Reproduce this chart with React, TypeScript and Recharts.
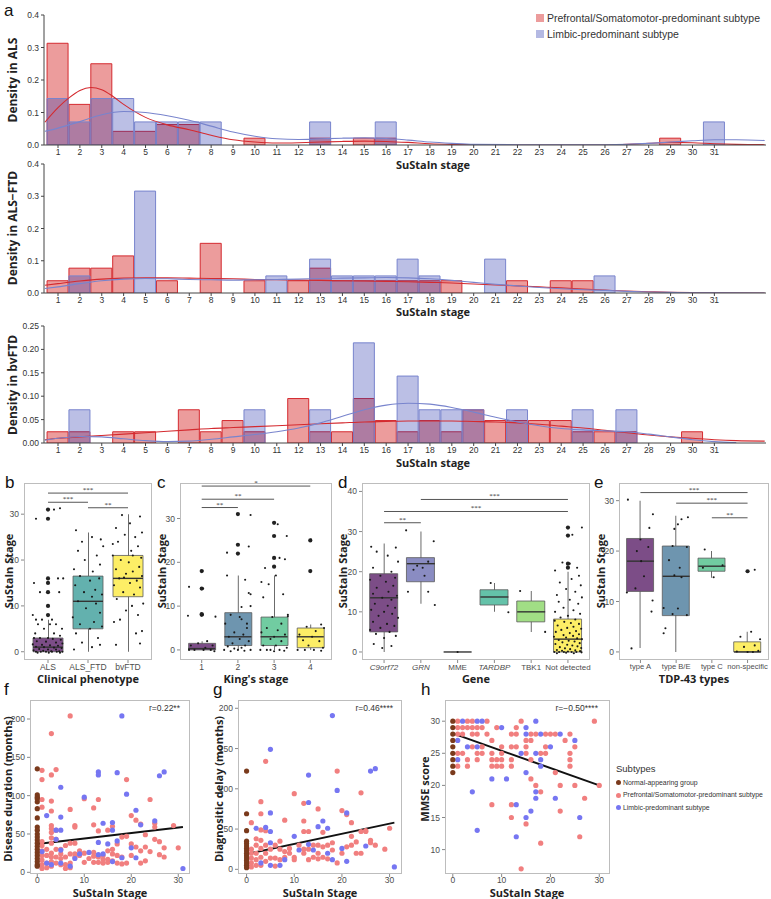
import React from "react";
import { Bar, Cell, ComposedChart, Line, ReferenceLine, Scatter, XAxis, YAxis } from "recharts";

type Pair = [number, number];

// ---------- panel a: stage histograms ----------
const stages = [1, 2, 3, 4, 5, 6, 7, 8, 9, 10, 11, 12, 13, 14, 15, 16, 17, 18, 19, 20, 21, 22, 23, 24, 25, 26, 27, 28, 29, 30, 31];

const alsRed = [0.313, 0.125, 0.25, 0.042, 0.042, 0.063, 0.063, 0, 0, 0.021, 0, 0, 0.021, 0, 0.021, 0.021, 0, 0, 0, 0, 0, 0, 0, 0, 0, 0, 0, 0, 0.021, 0, 0];
const alsBlue = [0.143, 0.071, 0.143, 0.143, 0.071, 0.071, 0.071, 0.071, 0, 0, 0, 0, 0.071, 0, 0, 0.071, 0, 0, 0, 0, 0, 0, 0, 0, 0, 0, 0, 0, 0, 0, 0.071];
const ftdRed = [0.038, 0.077, 0.077, 0.115, 0, 0.038, 0, 0.154, 0, 0.038, 0, 0.038, 0.077, 0.038, 0.038, 0.038, 0.038, 0.038, 0.038, 0, 0, 0.038, 0, 0.038, 0.038, 0, 0, 0, 0, 0, 0];
const ftdBlue = [0, 0.053, 0, 0, 0.316, 0, 0, 0, 0, 0, 0.053, 0, 0.105, 0.053, 0.053, 0.053, 0.105, 0.053, 0, 0, 0.105, 0, 0, 0, 0, 0.053, 0, 0, 0, 0, 0];
const bvRed = [0.024, 0.024, 0, 0.024, 0.024, 0, 0.071, 0.024, 0.048, 0.024, 0, 0.095, 0.024, 0.024, 0.095, 0.048, 0.024, 0.048, 0.024, 0.071, 0.048, 0.048, 0.048, 0.048, 0.024, 0.024, 0.024, 0, 0, 0.024, 0];
const bvBlue = [0, 0.071, 0, 0, 0, 0, 0, 0, 0, 0.071, 0, 0, 0.071, 0, 0.214, 0, 0.143, 0.071, 0.071, 0.071, 0, 0.071, 0, 0, 0.071, 0, 0.071, 0, 0, 0, 0];

// density curves, read at stage positions
const alsRedKde: Pair[] = [[0.4, 0.07], [1, 0.115], [1.5, 0.145], [2, 0.168], [2.5, 0.177], [3, 0.17], [3.5, 0.15], [4, 0.125], [5, 0.085], [6, 0.062], [7, 0.047], [8, 0.03], [9, 0.016], [10, 0.009], [11, 0.006], [12, 0.007], [13, 0.009], [14, 0.011], [15, 0.012], [16, 0.011], [17, 0.008], [18, 0.004], [19, 0.002], [20, 0.001], [22, 0], [26, 0], [27, 0.002], [28, 0.005], [29, 0.008], [30, 0.007], [31, 0.004], [32, 0.002], [33.3, 0.001]];
const alsBlueKde: Pair[] = [[0.4, 0.042], [1, 0.052], [2, 0.072], [3, 0.093], [4, 0.103], [5, 0.1], [6, 0.09], [7, 0.076], [8, 0.058], [9, 0.04], [10, 0.027], [11, 0.019], [12, 0.017], [13, 0.019], [14, 0.021], [15, 0.022], [16, 0.02], [17, 0.015], [18, 0.009], [19, 0.005], [20, 0.002], [22, 0.001], [26, 0.001], [27, 0.002], [28, 0.005], [29, 0.009], [30, 0.013], [31, 0.016], [32, 0.016], [33.3, 0.014]];
const ftdRedKde: Pair[] = [[0.4, 0.024], [1, 0.029], [2, 0.037], [3, 0.043], [4, 0.046], [5, 0.047], [6, 0.047], [7, 0.046], [8, 0.045], [9, 0.044], [10, 0.042], [11, 0.041], [12, 0.04], [13, 0.039], [14, 0.038], [15, 0.037], [16, 0.036], [17, 0.035], [18, 0.033], [19, 0.031], [20, 0.028], [21, 0.025], [22, 0.022], [23, 0.019], [24, 0.016], [25, 0.012], [26, 0.009], [27, 0.006], [28, 0.004], [29, 0.002], [30, 0.001], [31, 0.0005], [33.3, 0]];
const ftdBlueKde: Pair[] = [[0.4, 0.014], [1, 0.019], [2, 0.029], [3, 0.038], [4, 0.043], [5, 0.045], [6, 0.044], [7, 0.042], [8, 0.041], [9, 0.04], [10, 0.041], [11, 0.042], [12, 0.043], [13, 0.045], [14, 0.046], [15, 0.047], [16, 0.048], [17, 0.047], [18, 0.044], [19, 0.039], [20, 0.033], [21, 0.027], [22, 0.022], [23, 0.017], [24, 0.013], [25, 0.01], [26, 0.008], [27, 0.005], [28, 0.003], [29, 0.002], [30, 0.001], [31, 0.0005], [33.3, 0]];
const bvRedKde: Pair[] = [[0.4, 0.007], [1, 0.01], [2, 0.013], [3, 0.016], [4, 0.019], [5, 0.022], [6, 0.025], [7, 0.028], [8, 0.031], [9, 0.033], [10, 0.035], [11, 0.037], [12, 0.039], [13, 0.041], [14, 0.043], [15, 0.045], [16, 0.046], [17, 0.047], [18, 0.047], [19, 0.047], [20, 0.046], [21, 0.045], [22, 0.043], [23, 0.04], [24, 0.036], [25, 0.032], [26, 0.027], [27, 0.022], [28, 0.017], [29, 0.013], [30, 0.01], [31, 0.007], [32, 0.005], [33.3, 0.004]];
const bvBlueKde: Pair[] = [[0.4, 0.006], [1, 0.01], [2, 0.014], [3, 0.013], [4, 0.009], [5, 0.005], [6, 0.003], [7, 0.004], [8, 0.008], [9, 0.013], [10, 0.018], [11, 0.024], [12, 0.032], [13, 0.043], [14, 0.057], [15, 0.071], [16, 0.081], [17, 0.085], [18, 0.083], [19, 0.076], [20, 0.066], [21, 0.055], [22, 0.045], [23, 0.037], [24, 0.031], [25, 0.028], [26, 0.026], [27, 0.024], [28, 0.019], [29, 0.013], [30, 0.007], [31, 0.003], [32, 0.001]];

// ---------- panels b-e: box plots ----------
type Box = { x: number; lo: number; q1: number; med: number; q3: number; hi: number };

const phenoNames = ["ALS", "ALS_FTD", "bvFTD"];
const phenoBoxes: Box[] = [
  { x: 1, lo: 0, q1: 0, med: 1, q3: 3, hi: 7 },
  { x: 2, lo: 0, q1: 5, med: 11, q3: 16.5, hi: 26 },
  { x: 3, lo: 0, q1: 12, med: 16, q3: 21, hi: 30 },
];
const phenoOutliers: Pair[] = [[1, 8], [1, 10], [1, 13], [1, 15], [1, 16], [1, 29], [1, 31]];
const alsJitter: Pair[] = [[-0.3, 29], [0.15, 31], [0.3, 31.3], [-0.35, 15], [0.25, 16], [0.38, 16], [-0.2, 13], [0.28, 13], [-0.38, 8], [-0.3, 7], [-0.15, 7], [0.1, 7], [-0.25, 6], [0.05, 6], [0.2, 6], [0.35, 5], [-0.1, 5], [-0.32, 4], [0.15, 4], [0.3, 3.5], [-0.35, 3], [-0.2, 3], [0, 3], [0.12, 2.8], [0.32, 2.6], [-0.28, 2.3], [-0.05, 2.2], [0.2, 2], [0.36, 1.8], [-0.38, 1.6], [-0.15, 1.5], [0.05, 1.4], [0.25, 1.3], [-0.3, 1.1], [-0.1, 1], [0.15, 0.9], [0.34, 0.8], [-0.22, 0.6], [0, 0.5], [0.2, 0.5], [-0.36, 0.3], [-0.12, 0.2], [0.08, 0.1], [0.28, 0.1], [-0.3, 0], [-0.18, 0], [-0.05, 0], [0.1, 0], [0.22, 0], [0.36, 0], [-0.26, -0.2], [0.02, -0.2], [0.3, -0.2]];
const alsFtdJitter: Pair[] = [[-0.35, 0.5], [0.1, 1], [0.3, 1.5], [-0.15, 2], [0.25, 3], [-0.3, 4], [0.05, 5], [0.35, 5.5], [-0.2, 6], [0.15, 6.5], [-0.38, 7.5], [0.3, 8.5], [-0.05, 9.5], [0.2, 10.5], [-0.25, 11], [0.1, 12], [0.35, 12.5], [-0.1, 13], [0.18, 13.5], [-0.32, 14.5], [0.05, 15.5], [0.28, 16], [-0.2, 16.5], [0.12, 17.5], [-0.35, 18], [0.3, 19], [-0.08, 20], [0.22, 21], [-0.25, 22], [0.38, 23], [-0.15, 24], [0.1, 25], [-0.3, 26.5], [0.32, 24.5]];
const bvftdJitter: Pair[] = [[-0.3, 1.5], [0.3, 1.8], [0.2, 4], [0.35, 4.5], [-0.35, 6.5], [-0.2, 7], [0.25, 8], [-0.05, 9], [0.1, 10], [0.38, 10.5], [-0.28, 11.5], [0.15, 12.5], [-0.12, 13], [0.3, 14], [-0.35, 14.5], [0.05, 15], [0.22, 15.5], [-0.22, 16], [0.35, 16.5], [-0.05, 17], [0.12, 17.5], [-0.3, 18], [0.28, 18.5], [0.02, 19.5], [-0.18, 20], [0.33, 20.5], [-0.38, 21], [0.08, 22], [0.25, 23], [-0.25, 24], [0.18, 25], [-0.08, 25.5], [0.35, 26], [-0.3, 27], [0.05, 28], [0.3, 29.5], [-0.15, 29.8], [-0.38, 23.5], [0.12, 21], [-0.1, 16.2]];
const phenoBrackets: [number, number, number, string][] = [[1, 3, 34.6, "***"], [1, 2, 32.6, "***"], [2, 3, 31.4, "**"]];

const kingNames = ["1", "2", "3", "4"];
const kingBoxes: Box[] = [
  { x: 1, lo: 0, q1: 0, med: 0.3, q3: 1.5, hi: 2 },
  { x: 2, lo: 0, q1: 1, med: 3, q3: 8.5, hi: 17 },
  { x: 3, lo: 0, q1: 1, med: 3, q3: 7.5, hi: 17 },
  { x: 4, lo: 0, q1: 0.5, med: 3, q3: 5, hi: 5.8 },
];
const kingOutliers: Pair[] = [[1, 8], [1, 8.2], [1, 14], [1, 18], [2, 22], [2, 24], [2, 31], [3, 19], [3, 21], [3, 26], [3, 29], [4, 18], [4, 25]];
const king1Jitter: Pair[] = [[-0.35, 14.4], [0.38, 7.6], [-0.38, 7.8], [0.02, 18], [0.04, 14], [0.03, 8], [-0.3, 1], [-0.1, 1.5], [0.1, 0.5], [0.3, 1], [-0.2, 0], [0.05, 0], [0.25, 0], [0.35, -0.3], [-0.35, 0], [0.15, 2]];
const king2Jitter: Pair[] = [[-0.3, 22.2], [0.3, 23.6], [0.35, 30.8], [-0.3, 17], [0.2, 16], [0.3, 13], [0.35, 12.7], [0.1, 9.8], [0.35, 10], [-0.2, 8], [0.1, 7], [-0.35, 6], [0.25, 5], [-0.1, 4], [0.15, 3.5], [-0.25, 3], [0.05, 2.5], [0.3, 2], [-0.15, 1.5], [0.2, 1], [-0.38, 0], [-0.2, -0.3], [0, 0], [0.18, -0.2], [0.35, 0], [-0.1, 0.3], [0.1, 0.5], [-0.28, 0.8], [0.25, 6], [0.05, 7.5]];
const king3Jitter: Pair[] = [[0.1, 28.7], [0.35, 26], [0.3, 20.7], [0.15, 21], [-0.25, 18.7], [0.05, 17], [-0.35, 15.5], [-0.15, 15], [0.25, 12.7], [-0.3, 12], [0.38, 8], [-0.05, 7.5], [0.2, 6], [-0.2, 5], [0.1, 4.5], [-0.35, 4], [0.3, 3.5], [0, 3], [-0.1, 2.5], [0.2, 2], [-0.3, 1], [0.05, 1], [0.35, 0.5], [-0.38, 0], [-0.2, 0], [0, -0.3], [0.15, 0], [0.28, -0.2], [-0.1, 0], [0.38, 7.7]];
const king4Jitter: Pair[] = [[0.02, 25.2], [0.3, 5.8], [0.38, 5], [-0.1, 5.3], [0.15, 4.3], [-0.3, 3.5], [0.05, 3], [-0.2, 2.2], [0.25, 2], [-0.05, 1], [0.35, 0.5], [-0.35, 0], [-0.15, 0], [0.1, 0], [0.3, -0.2]];
const kingBrackets: [number, number, number, string][] = [[1, 4, 37.4, "*"], [1, 3, 34.4, "**"], [1, 2, 32.5, "**"]];

const geneNames = ["C9orf72", "GRN", "MME", "TARDBP", "TBK1", "Not detected"];
const geneItalic = ["C9orf72", "GRN", "TARDBP"];
const geneBoxes: Box[] = [
  { x: 1, lo: 0, q1: 5, med: 13.5, q3: 19.5, hi: 27 },
  { x: 2, lo: 12, q1: 17.5, med: 22, q3: 23.5, hi: 30 },
  { x: 3, lo: 0, q1: 0, med: 0, q3: 0, hi: 0 },
  { x: 4, lo: 10, q1: 11.7, med: 13.7, q3: 15.5, hi: 17.2 },
  { x: 5, lo: 5, q1: 7.5, med: 10, q3: 12.7, hi: 15.2 },
  { x: 6, lo: 0, q1: 0, med: 3.2, q3: 8.2, hi: 20 },
];
const geneOutliers: Pair[] = [[6, 21], [6, 22], [6, 29], [6, 31]];
const c9Jitter: Pair[] = [[-0.35, 26.2], [0.32, 26], [-0.2, 25], [0.1, 24], [0.38, 22.5], [-0.3, 21], [0.2, 20], [-0.1, 19], [0.3, 18.5], [-0.38, 18], [0.05, 17.5], [0.25, 16.5], [-0.2, 16], [0.12, 15], [-0.3, 14.5], [0.35, 14], [-0.05, 13.5], [0.2, 13], [-0.25, 12], [0.1, 11.5], [0.3, 11], [-0.35, 10.5], [0, 10], [0.22, 9.5], [-0.15, 9], [0.38, 8.5], [-0.3, 7.5], [0.08, 7], [0.28, 6.5], [-0.1, 6], [-0.38, 5.5], [0.15, 5], [-0.22, 4.5], [0.32, 4], [0, 3.5], [-0.28, 2], [0.2, 1.5], [-0.05, 1]];
const grnJitter: Pair[] = [[-0.4, 30.3], [0.35, 27.6], [0.2, 22.5], [-0.1, 21.5], [0.05, 21], [-0.2, 20.5], [0.1, 19], [-0.35, 15], [0.2, 15], [0.38, 11.7]];
const mmeJitter: Pair[] = [[0, 0]];
const tardbpJitter: Pair[] = [[-0.1, 17.2], [0.38, 9.9]];
const tbk1Jitter: Pair[] = [[-0.3, 15.2], [0.38, 5]];
const ndJitter: Pair[] = [[0.38, 31], [0.12, 29.2], [0.05, 22], [-0.15, 22.3], [0.25, 21], [-0.35, 20.3], [0.3, 19], [0.1, 18.2], [-0.22, 17.3], [0.35, 16.6], [-0.05, 15.7], [0.2, 15], [-0.3, 14.2], [0.38, 13.6], [0.05, 13], [-0.25, 12.5], [0.28, 12], [-0.12, 11], [0.15, 10.4], [-0.35, 10], [0.33, 9.5], [0, 9], [-0.2, 8.6], [0.2, 8.1], [-0.36, 7.8], [-0.1, 7.5], [0.08, 7.2], [0.3, 7], [-0.28, 6.6], [0.15, 6.3], [-0.02, 6], [0.36, 5.8], [-0.18, 5.5], [0.22, 5.2], [-0.33, 5], [0.05, 4.7], [0.3, 4.4], [-0.12, 4.2], [0.14, 4], [-0.38, 3.8], [-0.05, 3.6], [0.25, 3.4], [0.38, 3.2], [-0.25, 3], [0.02, 2.8], [0.18, 2.6], [-0.15, 2.4], [0.32, 2.2], [-0.34, 2], [-0.02, 1.8], [0.12, 1.6], [0.26, 1.4], [-0.22, 1.2], [0.36, 1], [-0.08, 0.9], [0.06, 0.7], [-0.3, 0.5], [0.2, 0.4], [-0.16, 0.3], [0.33, 0.2], [0, 0.1], [-0.37, 0], [-0.24, 0], [-0.11, 0], [0.1, 0], [0.23, 0], [0.37, -0.1], [-0.05, -0.2], [0.16, -0.3], [-0.3, -0.3]];
const geneBrackets: [number, number, number, string][] = [[2, 6, 38, "***"], [1, 6, 35, "***"], [1, 2, 32.2, "**"]];

const tdpNames = ["type A", "type B/E", "type C", "non-specific"];
const tdpBoxes: Box[] = [
  { x: 1, lo: 0.8, q1: 12, med: 18, q3: 22.5, hi: 30 },
  { x: 2, lo: 0, q1: 7.2, med: 15, q3: 21, hi: 27 },
  { x: 3, lo: 14.7, q1: 16, med: 17, q3: 18.6, hi: 20 },
  { x: 4, lo: 0, q1: 0, med: 0, q3: 2, hi: 4 },
];
const tdpOutliers: Pair[] = [[4, 16]];
const typeAJitter: Pair[] = [[-0.35, 30.2], [0.35, 27.3], [0.25, 24.6], [0, 22.3], [0.22, 20.8], [-0.1, 20], [0.02, 18], [0.1, 15], [-0.14, 12.6], [-0.38, 11.8], [0.34, 10.2], [0.31, 8], [-0.25, 0.7]];
const typeBEJitter: Pair[] = [[0.33, 26.7], [0.15, 26.3], [0.05, 25.3], [-0.05, 24.4], [-0.1, 21], [0.3, 20.8], [-0.2, 18.2], [0.1, 16.7], [-0.05, 15.2], [0.15, 14.8], [-0.35, 8.7], [0.05, 8.6], [-0.1, 7.5], [0.3, 7.3], [-0.3, 4.7], [-0.35, 3.7]];
const typeCJitter: Pair[] = [[-0.2, 20.3], [-0.25, 16.7], [0.05, 14.8], [0.3, 17.2]];
const nonSpecJitter: Pair[] = [[0.2, 16.3], [0.1, 4], [-0.2, 3], [0.35, 2.5], [0.2, 1.3], [-0.1, 1], [0.3, 0.2], [-0.3, 0.1], [0, 0], [0.15, 0]];
const tdpBrackets: [number, number, number, string][] = [[1, 4, 31.6, "***"], [2, 4, 29.5, "***"], [3, 4, 26.6, "**"]];

// ---------- panels f-h: scatter vs stage ----------
const durBrown: number[] = [135, 101, 98, 96, 92, 83, 71, 59, 55, 50, 46, 42, 38, 34, 30, 26, 22, 18, 14, 10, 8];
const durPink: Pair[] = [[7, 204], [3, 181], [3, 127], [4, 134], [1, 133], [1, 121], [3, 93], [1, 95], [1, 85], [3, 80], [7, 82], [10, 96], [13, 95], [12, 84], [19, 121], [20, 74], [21, 68], [24, 95], [22, 63], [29, 61], [30, 32], [3, 61], [3, 57], [4, 55], [8, 61], [8, 59], [12, 62], [13, 54], [15, 55], [16, 60], [18, 46], [23, 49], [25, 64], [25, 59], [19, 47], [17, 37], [1, 40], [1, 35], [1, 28], [1, 22], [1, 16], [1, 10], [1, 5], [2, 30], [2, 22], [2, 12], [2, 6], [3, 52], [3, 45], [3, 38], [3, 25], [3, 20], [3, 14], [3, 8], [4, 43], [4, 30], [4, 20], [4, 12], [5, 30], [5, 24], [5, 18], [5, 10], [6, 35], [6, 20], [6, 10], [6, 5], [7, 38], [7, 24], [7, 12], [7, 6], [8, 38], [8, 24], [8, 20], [9, 28], [9, 22], [10, 25], [10, 13], [11, 18], [12, 26], [12, 21], [12, 13], [13, 20], [13, 13], [14, 22], [14, 17], [14, 12], [15, 28], [15, 17], [15, 13], [16, 30], [16, 24], [16, 15], [17, 22], [17, 12], [18, 20], [18, 11], [19, 12], [20, 37], [20, 22], [21, 33], [22, 28], [22, 12], [23, 33], [23, 15], [24, 27], [25, 43], [26, 40], [26, 23], [27, 32], [27, 20]];
const durBlue: Pair[] = [[18, 204], [5, 111], [13, 131], [13, 127], [17, 130], [26, 126], [27, 131], [10, 98], [19, 102], [21, 81], [2, 74], [5, 72], [14, 64], [16, 65], [22, 62], [25, 67], [4, 55], [5, 55], [13, 39], [15, 37], [17, 41], [20, 32], [21, 19], [1, 27], [2, 12], [3, 10], [5, 12], [7, 8], [8, 18], [11, 26], [14, 24], [16, 14], [31, 5], [5, 29], [4, 43], [9, 24], [18, 19], [13, 23], [16, 55]];
const durFit: Pair[] = [[0, 37], [31, 59]];

const delayBrown: number[] = [122, 69, 48, 35, 32, 29, 26, 23, 20, 17, 14, 11, 8, 5, 2];
const delayPink: Pair[] = [[4, 134], [19, 122], [10, 94], [12, 82], [15, 75], [24, 95], [20, 73], [21, 68], [22, 58], [3, 84], [3, 69], [1, 58], [8, 61], [12, 60], [13, 47], [12, 47], [22, 41], [23, 34], [24, 47], [25, 48], [26, 36], [27, 30], [29, 25], [30, 51], [1, 25], [1, 20], [1, 14], [1, 8], [1, 3], [2, 38], [2, 30], [2, 20], [2, 12], [2, 5], [3, 49], [3, 36], [3, 26], [3, 15], [3, 5], [4, 48], [4, 30], [4, 20], [4, 10], [5, 25], [5, 14], [6, 30], [6, 14], [6, 4], [7, 35], [7, 25], [7, 12], [8, 22], [8, 15], [9, 26], [9, 20], [10, 15], [10, 12], [11, 30], [12, 25], [12, 20], [13, 12], [13, 25], [14, 15], [14, 30], [15, 30], [15, 20], [15, 13], [16, 28], [16, 15], [17, 30], [17, 13], [18, 24], [19, 8], [20, 20], [21, 28], [22, 30], [23, 20], [24, 20], [25, 47], [26, 33], [18, 33], [16, 46]];
const delayBlue: Pair[] = [[18, 191], [5, 149], [13, 117], [26, 122], [27, 125], [19, 98], [5, 70], [13, 83], [21, 70], [16, 60], [15, 53], [17, 51], [2, 51], [4, 52], [5, 47], [5, 33], [10, 41], [11, 24], [13, 31], [14, 24], [17, 20], [20, 26], [21, 10], [25, 29], [31, 3], [3, 8], [5, 5], [7, 5], [8, 12], [18, 12]];
const delayFit: Pair[] = [[0, 19], [31, 58]];

const mmseBrown: number[] = [30, 29, 28, 27, 26, 25, 24, 23, 22];
const mmsePink: Pair[] = [[1, 30], [3, 30], [4, 30], [7, 30], [14, 30], [29, 30], [1, 29], [2, 29], [3, 29], [4, 29], [5, 29], [6, 29], [9, 29], [13, 29], [1, 28], [2, 28], [4, 28], [5, 28], [7, 28], [12, 28], [13, 28], [16, 28], [17, 28], [19, 28], [20, 28], [21, 28], [24, 28], [8, 27], [15, 27], [16, 27], [23, 27], [4, 26], [6, 26], [10, 26], [12, 26], [13, 26], [15, 26], [19, 26], [25, 26], [1, 25], [2, 25], [5, 25], [6, 25], [8, 25], [10, 25], [15, 25], [18, 25], [19, 25], [24, 25], [3, 24], [5, 24], [8, 24], [9, 24], [10, 24], [12, 24], [16, 24], [24, 24], [1, 23], [3, 23], [8, 23], [9, 23], [10, 23], [12, 23], [24, 23], [21, 22], [16, 21], [17, 20], [22, 20], [25, 20], [30, 20], [18, 19], [27, 18], [8, 17], [12, 17], [22, 16], [12, 15], [15, 14], [26, 12], [18, 11], [14, 7]];
const mmseBlue: Pair[] = [[2, 30], [5, 30], [6, 30], [17, 30], [10, 29], [15, 29], [15, 28], [18, 28], [22, 28], [1, 27], [25, 27], [3, 26], [5, 26], [20, 26], [14, 25], [17, 25], [1, 24], [18, 24], [18, 23], [15, 22], [8, 21], [11, 21], [4, 19], [17, 19], [17, 18], [21, 18], [13, 17], [16, 16], [15, 15], [26, 15], [5, 13], [13, 12]];
const mmseFit: Pair[] = [[0, 28.1], [30, 20]];

// ---------- styles ----------
const TICK_FONT = "'Liberation Sans', Arial, sans-serif";
const TITLE_FONT = "'Open Sans', 'Noto Sans', sans-serif";
const RED_FILL = "#D52424";
const RED_LINE = "#D42A2F";
const BLUE_FILL = "#2A37AF";
const BLUE_LINE = "#7884CD";
const PINK = "#F17F7F";
const BLUE = "#7676F2";
const BROWN = "#7A3A1C";

const viridis3 = ["#7C4D87", "#63B1AE", "#FDEE66"];
const viridis4 = ["#7C4D87", "#6E95AF", "#71CCA1", "#FDEE66"];
const viridis6 = ["#7C4D87", "#8A8CC2", "#69A0AF", "#64C2A9", "#A1DE85", "#FDEE66"];

const toXY = (pairs: Pair[]) => pairs.map(([x, y]) => ({ x, y }));
const withCat = (cat: number, pairs: Pair[]) => pairs.map(([dx, y]) => ({ x: cat + dx, y }));

function Txt({ x, y, children, size = 11, bold = true, color = "#222", font = TITLE_FONT, anchor = "center" }: any) {
  const tx = anchor === "center" ? "-50%" : anchor === "right" ? "-100%" : "0";
  return (
    <div style={{ position: "absolute", left: x, top: y, transform: `translate(${tx}, -50%)`, whiteSpace: "nowrap", fontSize: size, fontWeight: bold ? 700 : 400, color, fontFamily: font, lineHeight: 1 }}>
      {children}
    </div>
  );
}

function RotTxt({ x, y, children, size = 11 }: any) {
  return (
    <div style={{ position: "absolute", left: x, top: y, transform: "translate(-50%, -50%) rotate(-90deg)", whiteSpace: "nowrap", fontSize: size, fontWeight: 700, color: "#222", fontFamily: TITLE_FONT, lineHeight: 1 }}>
      {children}
    </div>
  );
}

function StageHist({ top, height, red, blue, redKde, blueKde, yMax, yTicks, digits }: any) {
  const data = stages.map((s, i) => ({ x: s, red: red[i], blue: blue[i] }));
  const mt = 6;
  const xDomain = [0.36, 33.36];
  const tick = { fontSize: 8.5, fill: "#333", fontFamily: TICK_FONT };
  return (
    <div style={{ position: "absolute", left: 0, top: top - mt }}>
      <ComposedChart width={771} height={height + mt + 14} data={data} margin={{ top: mt, right: 5, bottom: 0, left: 0 }}>
        <XAxis xAxisId="main" type="number" dataKey="x" domain={xDomain} allowDataOverflow ticks={stages} interval={0} height={14} tickSize={3} tickMargin={1} tick={tick} stroke="#444" />
        <XAxis xAxisId="r" type="number" dataKey="x" domain={xDomain} hide height={0} />
        <XAxis xAxisId="s" type="number" dataKey="x" domain={xDomain} hide height={0} />
        <YAxis type="number" domain={[0, yMax]} allowDataOverflow ticks={yTicks} tickFormatter={(v: number) => v.toFixed(digits)} width={44} tickSize={3} tick={tick} stroke="#444" />
        <Bar xAxisId="r" dataKey="red" barSize={21} fill={RED_FILL} fillOpacity={0.45} stroke={RED_LINE} strokeWidth={1} isAnimationActive={false} />
        <Bar xAxisId="s" dataKey="blue" barSize={21} fill={BLUE_FILL} fillOpacity={0.32} stroke={BLUE_LINE} strokeWidth={1} isAnimationActive={false} />
        <Line xAxisId="main" data={toXY(redKde)} dataKey="y" type="monotone" stroke={RED_LINE} strokeWidth={1.1} dot={false} isAnimationActive={false} />
        <Line xAxisId="main" data={toXY(blueKde)} dataKey="y" type="monotone" stroke={BLUE_LINE} strokeWidth={1.1} dot={false} isAnimationActive={false} />
      </ComposedChart>
    </div>
  );
}

const dot = (r: number, fill: string) => (p: any) => <circle cx={p.cx} cy={p.cy} r={r} fill={fill} />;

function Frame({ left, top, width, height }: any) {
  return <div style={{ position: "absolute", left, top, width, height, border: "1px solid #bdbdbd", boxSizing: "border-box", pointerEvents: "none" }} />;
}

function BoxPanel({ left, top, width, height, xDomain, yDomain, yTicks, names, italic = [], boxes, colors, jitter, outliers, brackets, tickSize = 8.5 }: any) {
  const yw = 22;
  const xh = 16;
  const mt = 6;
  const extra = 24;
  const unit = width / (xDomain[1] - xDomain[0]);
  const bw = Math.round(0.75 * unit);
  const cats = boxes.map((b: Box) => b.x);
  const tickStyle = { fontSize: 8.5, fill: "#4d4d4d", fontFamily: TICK_FONT };
  const xTick = (p: any) => {
    const name = names[p.payload.value - 1];
    return (
      <text x={p.x} y={p.y} dy="0.71em" textAnchor="middle" fontSize={tickSize} fill="#4d4d4d" fontFamily={TICK_FONT} fontStyle={italic.includes(name) ? "italic" : "normal"}>
        {name}
      </text>
    );
  };
  const median = (p: any) => <line x1={p.cx - bw / 2} x2={p.cx + bw / 2} y1={p.cy} y2={p.cy} stroke="#333" strokeWidth={1.4} />;
  return (
    <>
      <div style={{ position: "absolute", left: left - yw, top: top - mt }}>
        <ComposedChart width={width + yw + extra} height={height + mt + xh} data={boxes} margin={{ top: mt, right: extra, bottom: 0, left: 0 }}>
          <XAxis xAxisId="main" type="number" dataKey="x" domain={xDomain} allowDataOverflow ticks={cats} interval={0} tick={xTick} tickSize={3} tickMargin={1} axisLine={false} tickLine={{ stroke: "#888" }} height={xh} />
          <XAxis xAxisId="w" type="number" dataKey="x" domain={xDomain} allowDataOverflow hide height={0} />
          <XAxis xAxisId="bx" type="number" dataKey="x" domain={xDomain} allowDataOverflow hide height={0} />
          <YAxis type="number" domain={yDomain} allowDataOverflow ticks={yTicks} tick={tickStyle} tickSize={3} axisLine={false} tickLine={{ stroke: "#888" }} width={yw} />
          <Bar xAxisId="w" dataKey={(d: Box) => [d.lo, d.hi]} barSize={1} fill="#6b6b6b" isAnimationActive={false} />
          <Bar xAxisId="bx" dataKey={(d: Box) => [d.q1, d.q3]} barSize={bw} stroke="#5a5a5a" strokeWidth={0.8} isAnimationActive={false}>
            {boxes.map((b: Box, i: number) => (
              <Cell key={b.x} fill={colors[i]} />
            ))}
          </Bar>
          <Scatter xAxisId="main" data={boxes.map((b: Box) => ({ x: b.x, y: b.med }))} dataKey="y" shape={median} isAnimationActive={false} />
          <Scatter xAxisId="main" data={toXY(outliers)} dataKey="y" shape={dot(2.1, "#222")} isAnimationActive={false} />
          <Scatter xAxisId="main" data={jitter} dataKey="y" shape={dot(1.05, "#1a1a1a")} isAnimationActive={false} />
          {brackets.map(([a, b, y, s]: [number, number, number, string]) => (
            <ReferenceLine
              key={`${a}-${b}`}
              xAxisId="main"
              segment={[{ x: a, y }, { x: b, y }]}
              stroke="#555"
              strokeWidth={1}
              ifOverflow="visible"
              label={{ value: s, position: "top", offset: 1, fontSize: 7, fill: "#333" }}
            />
          ))}
        </ComposedChart>
      </div>
      <Frame left={left} top={top} width={width} height={height} />
    </>
  );
}

function ScatterPanel({ left, top, width, height, xDomain, yDomain, yTicks, brown, pink, blue, fit }: any) {
  const yw = 24;
  const xh = 12;
  const tickStyle = { fontSize: 8.5, fill: "#4d4d4d", fontFamily: TICK_FONT };
  return (
    <>
      <div style={{ position: "absolute", left: left - yw, top }}>
        <ComposedChart width={width + yw} height={height + xh} margin={{ top: 0, right: 0, bottom: 0, left: 0 }}>
          <XAxis xAxisId="main" type="number" dataKey="x" domain={xDomain} allowDataOverflow ticks={[0, 10, 20, 30]} tick={tickStyle} tickSize={3} tickMargin={0} axisLine={false} tickLine={{ stroke: "#888" }} height={xh} />
          <YAxis type="number" domain={yDomain} allowDataOverflow ticks={yTicks} tick={tickStyle} tickSize={3} axisLine={false} tickLine={{ stroke: "#888" }} width={yw} />
          <Scatter xAxisId="main" data={toXY(pink)} dataKey="y" shape={dot(2.6, PINK)} isAnimationActive={false} />
          <Scatter xAxisId="main" data={toXY(blue)} dataKey="y" shape={dot(2.6, BLUE)} isAnimationActive={false} />
          <Scatter xAxisId="main" data={brown.map((y: number) => ({ x: 0, y }))} dataKey="y" shape={dot(2.6, BROWN)} isAnimationActive={false} />
          <Line xAxisId="main" data={toXY(fit)} dataKey="y" type="linear" stroke="#111" strokeWidth={2} dot={false} isAnimationActive={false} />
        </ComposedChart>
      </div>
      <Frame left={left} top={top} width={width} height={height} />
    </>
  );
}

export default function App() {
  const letter = { size: 17, bold: false, font: TICK_FONT, color: "#111", anchor: "left" };
  const small = { bold: false, font: TICK_FONT, color: "#333" };
  return (
    <div style={{ position: "absolute", left: 0, top: 0, width: 771, height: 899, background: "#fff", overflow: "hidden" }}>
      <Txt x={4} y={10} {...letter}>a</Txt>

      <StageHist top={15} height={130} red={alsRed} blue={alsBlue} redKde={alsRedKde} blueKde={alsBlueKde} yMax={0.4} yTicks={[0, 0.1, 0.2, 0.3, 0.4]} digits={1} />
      <StageHist top={164} height={129} red={ftdRed} blue={ftdBlue} redKde={ftdRedKde} blueKde={ftdBlueKde} yMax={0.4} yTicks={[0, 0.1, 0.2, 0.3, 0.4]} digits={1} />
      <StageHist top={326} height={117} red={bvRed} blue={bvBlue} redKde={bvRedKde} blueKde={bvBlueKde} yMax={0.25} yTicks={[0, 0.05, 0.1, 0.15, 0.2, 0.25]} digits={2} />

      <RotTxt x={13} y={80} size={12}>Density in ALS</RotTxt>
      <RotTxt x={13} y={228} size={12}>Density in ALS−FTD</RotTxt>
      <RotTxt x={13} y={385} size={12}>Density in bvFTD</RotTxt>
      <Txt x={433} y={164}>SuStaIn stage</Txt>
      <Txt x={433} y={311}>SuStaIn stage</Txt>
      <Txt x={433} y={462}>SuStaIn stage</Txt>

      <div style={{ position: "absolute", left: 536, top: 14, width: 8, height: 8, background: "#EC9C9C" }} />
      <Txt x={547} y={18} size={10.5} {...small} anchor="left">Prefrontal/Somatomotor-predominant subtype</Txt>
      <div style={{ position: "absolute", left: 536, top: 30, width: 8, height: 8, background: "#B4B9E3" }} />
      <Txt x={547} y={34} size={10.5} {...small} anchor="left">Limbic-predominant subtype</Txt>

      {/* b */}
      <Txt x={5} y={482} {...letter}>b</Txt>
      <BoxPanel left={24} top={483} width={128} height={177} xDomain={[0.4, 3.6]} yDomain={[-1.8, 36.8]} yTicks={[0, 10, 20, 30]} names={phenoNames} boxes={phenoBoxes} colors={viridis3}
        jitter={[...withCat(1, alsJitter), ...withCat(2, alsFtdJitter), ...withCat(3, bvftdJitter)]} outliers={phenoOutliers} brackets={phenoBrackets} />
      <RotTxt x={8} y={571}>SuStaIn Stage</RotTxt>
      <Txt x={88} y={678}>Clinical phenotype</Txt>

      {/* c */}
      <Txt x={157} y={482} {...letter}>c</Txt>
      <BoxPanel left={180} top={483} width={152} height={177} xDomain={[0.4, 4.6]} yDomain={[-2.3, 38.1]} yTicks={[0, 10, 20, 30]} names={kingNames} boxes={kingBoxes} colors={viridis4}
        jitter={[...withCat(1, king1Jitter), ...withCat(2, king2Jitter), ...withCat(3, king3Jitter), ...withCat(4, king4Jitter)]} outliers={kingOutliers} brackets={kingBrackets} />
      <RotTxt x={161} y={571}>SuStaIn Stage</RotTxt>
      <Txt x={256} y={678}>King's stage</Txt>

      {/* d */}
      <Txt x={338} y={482} {...letter}>d</Txt>
      <BoxPanel left={362} top={483} width={228} height={177} xDomain={[0.4, 6.6]} yDomain={[-2, 42.1]} yTicks={[0, 10, 20, 30, 40]} names={geneNames} italic={geneItalic} boxes={geneBoxes} colors={viridis6} tickSize={8}
        jitter={[...withCat(1, c9Jitter), ...withCat(2, grnJitter), ...withCat(3, mmeJitter), ...withCat(4, tardbpJitter), ...withCat(5, tbk1Jitter), ...withCat(6, ndJitter)]} outliers={geneOutliers} brackets={geneBrackets} />
      <RotTxt x={342} y={571}>SuStaIn Stage</RotTxt>
      <Txt x={476} y={678}>Gene</Txt>

      {/* e */}
      <Txt x={594} y={482} {...letter}>e</Txt>
      <BoxPanel left={619} top={483} width={150} height={177} xDomain={[0.4, 4.6]} yDomain={[-1.6, 33.5]} yTicks={[0, 10, 20, 30]} names={tdpNames} boxes={tdpBoxes} colors={viridis4} tickSize={7.6}
        jitter={[...withCat(1, typeAJitter), ...withCat(2, typeBEJitter), ...withCat(3, typeCJitter), ...withCat(4, nonSpecJitter)]} outliers={tdpOutliers} brackets={tdpBrackets} />
      <RotTxt x={600} y={571}>SuStaIn Stage</RotTxt>
      <Txt x={694} y={678}>TDP-43 types</Txt>

      {/* f */}
      <Txt x={4} y={689} {...letter}>f</Txt>
      <ScatterPanel left={30} top={700} width={160} height={174} xDomain={[-1.55, 32.5]} yDomain={[-2.2, 224.8]} yTicks={[0, 50, 100, 150, 200]} brown={durBrown} pink={durPink} blue={durBlue} fit={durFit} />
      <RotTxt x={7} y={789}>Disease duration (months)</RotTxt>
      <Txt x={110} y={892}>SuStaIn Stage</Txt>
      <Txt x={180} y={708} size={8.5} {...small} anchor="right">r=0.22**</Txt>

      {/* g */}
      <Txt x={213} y={689} {...letter}>g</Txt>
      <ScatterPanel left={238} top={700} width={164} height={174} xDomain={[-1.8, 32.6]} yDomain={[-5.8, 210.3]} yTicks={[0, 50, 100, 150, 200]} brown={delayBrown} pink={delayPink} blue={delayBlue} fit={delayFit} />
      <RotTxt x={218} y={789}>Diagnositic delay (months)</RotTxt>
      <Txt x={320} y={892}>SuStaIn Stage</Txt>
      <Txt x={393} y={708} size={8.5} {...small} anchor="right">r=0.46****</Txt>

      {/* h */}
      <Txt x={421} y={689} {...letter}>h</Txt>
      <ScatterPanel left={445} top={700} width={165} height={174} xDomain={[-1.6, 32.2]} yDomain={[6.2, 33.3]} yTicks={[10, 15, 20, 25, 30]} brown={mmseBrown} pink={mmsePink} blue={mmseBlue} fit={mmseFit} />
      <RotTxt x={424} y={789}>MMSE score</RotTxt>
      <Txt x={527} y={892}>SuStaIn Stage</Txt>
      <Txt x={598} y={708} size={8.5} {...small} anchor="right">r=−0.50****</Txt>

      <Txt x={616} y={769} size={9.5} {...small} anchor="left">Subtypes</Txt>
      {[["Normal-appearing group", BROWN], ["Prefrontal/Somatomotor-predominant subtype", PINK], ["Limbic-predominant subtype", BLUE]].map(([label, c], i) => (
        <React.Fragment key={label}>
          <div style={{ position: "absolute", left: 616, top: 780 + i * 12.5, width: 5, height: 5, borderRadius: 3, background: c }} />
          <Txt x={623} y={782.5 + i * 12.5} size={6.9} {...small} anchor="left">{label}</Txt>
        </React.Fragment>
      ))}
    </div>
  );
}
